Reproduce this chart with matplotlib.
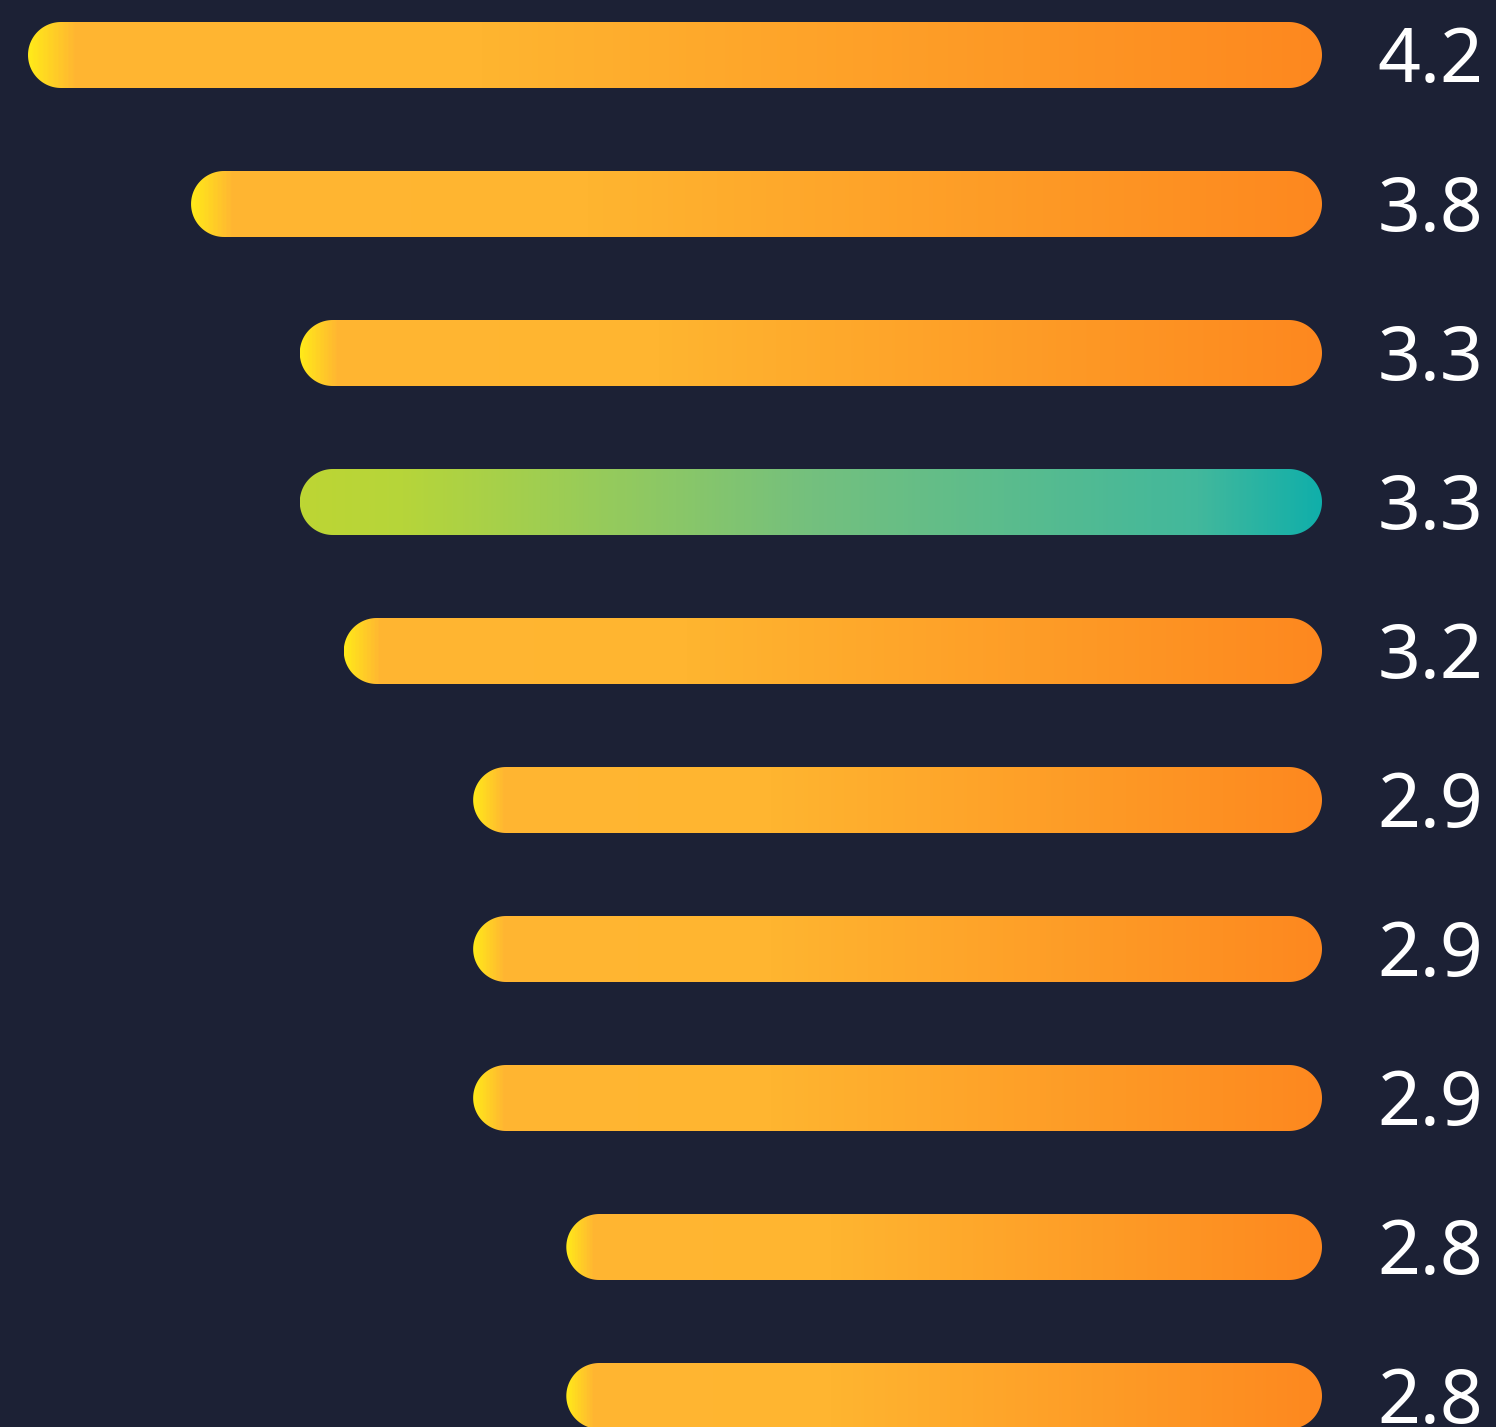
import numpy as np
import matplotlib
matplotlib.use('Agg')
from matplotlib import pyplot as plt
from matplotlib.patches import Polygon
from matplotlib.colors import LinearSegmentedColormap

# data
labels = ['4.2', '3.8', '3.3', '3.3', '3.2', '2.9', '2.9', '2.9', '2.8', '2.8']
# bar length relative to the longest bar (%)
bar_scores = [100, 87.4, 79.0, 79.0, 75.6, 65.6, 65.6, 65.6, 58.4, 58.4]
highlight = [False, False, False, True, False, False, False, False, False, False]

bg = '#1c2135'
orange = LinearSegmentedColormap.from_list(
    'orange', [(0, '#ffe81a'), (0.035, '#ffb632'), (0.35, '#ffb530'), (1, '#fd881f')])
teal = LinearSegmentedColormap.from_list(
    'teal', [(0, '#bdd634'), (0.1, '#b6d53a'), (0.5, '#74c07e'), (0.88, '#42b89c'), (1, '#10afaa')])

W, H = 1496, 1427
fig = plt.figure(figsize=(W / 100, H / 100), dpi=100, facecolor=bg)
ax = fig.add_axes([0, 0, 1, 1])
ax.set_facecolor(bg)

# scale: score 100 spans 1294 px, bars end at x=1322 px, rows 149 px apart
px_x = 1294 / 100
px_y = 149
xlim = (1322 / px_x, -(W - 1322) / px_x)
ylim = ((H - 55) / px_y, -55 / px_y)
bar_h = 66 / px_y
rx, ry = 33 / px_x, bar_h / 2  # cap radius in data units


def pill(x0, x1, yc):
    t = np.linspace(-np.pi / 2, np.pi / 2, 60)
    right = np.column_stack([x1 - rx + rx * np.cos(t), yc + ry * np.sin(t)])
    left = np.column_stack([x0 + rx - rx * np.cos(t), yc - ry * np.sin(t)])
    return np.vstack([right, left])


grad = np.linspace(0, 1, 512).reshape(1, -1)
for i, (s, lab, hl) in enumerate(zip(bar_scores, labels, highlight)):
    patch = Polygon(pill(0, s, i), closed=True, facecolor='none', edgecolor='none')
    ax.add_patch(patch)
    im = ax.imshow(grad, cmap=teal if hl else orange, aspect='auto',
                   extent=(s, 0, i + bar_h / 2, i - bar_h / 2), interpolation='bilinear')
    im.set_clip_path(patch)
    ax.annotate(lab, xy=(0, i), xytext=(40, -19.7), textcoords='offset points',
                ha='left', va='baseline', color='white', fontsize=54, family='Noto Sans')

ax.set_xlim(*xlim)
ax.set_ylim(*ylim)
ax.axis('off')
plt.savefig('out.png', dpi=100, facecolor=bg)
